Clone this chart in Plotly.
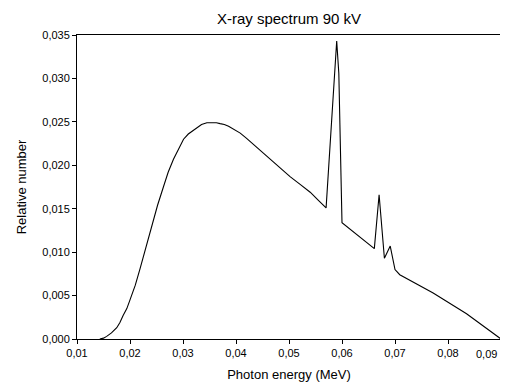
import plotly.graph_objects as go

# Photon energy (MeV) and relative number
energy = [0.0143, 0.0150, 0.0156, 0.0165, 0.0175, 0.0181, 0.0187, 0.0194, 0.0200,
          0.0210, 0.0219, 0.0230, 0.0241, 0.0252, 0.0263, 0.0272, 0.0282, 0.0292,
          0.0301, 0.0310, 0.0319, 0.0327, 0.0335, 0.0345, 0.0355, 0.0363, 0.0370,
          0.0378, 0.0386, 0.0395, 0.0408, 0.0420, 0.0442, 0.0464, 0.0483, 0.0502,
          0.0521, 0.0540, 0.0555, 0.0570,
          0.0590, 0.0594, 0.0600, 0.0661, 0.0670, 0.0680, 0.0691, 0.0700, 0.0709,
          0.0772, 0.0835, 0.0900]
relative = [0.0000, 0.0001, 0.0003, 0.0007, 0.0013, 0.0019, 0.0027, 0.0035, 0.0045,
            0.0062, 0.0081, 0.0106, 0.0132, 0.0154, 0.0175, 0.0192, 0.0207, 0.0220,
            0.0230, 0.0236, 0.0240, 0.0244, 0.0247, 0.0249, 0.0249, 0.0249, 0.0248,
            0.0247, 0.0245, 0.0242, 0.0237, 0.0231, 0.0219, 0.0207, 0.0197, 0.0187,
            0.0178, 0.0169, 0.0160, 0.0151,
            0.0343, 0.0306, 0.0134, 0.0104, 0.0166, 0.0093, 0.0107, 0.0080, 0.0074,
            0.0053, 0.0029, 0.0000]

x_tick_vals = [0.01, 0.02, 0.03, 0.04, 0.05, 0.06, 0.07, 0.08, 0.09]
x_tick_text = ["0,01", "0,02", "0,03", "0,04", "0,05", "0,06", "0,07", "0,08", "0,09"]
y_tick_vals = [0.0, 0.005, 0.010, 0.015, 0.020, 0.025, 0.030, 0.035]
y_tick_text = ["0,000", "0,005", "0,010", "0,015", "0,020", "0,025", "0,030", "0,035"]

fig = go.Figure(go.Scatter(x=energy, y=relative, mode="lines",
                           line=dict(color="black", width=1.1), hoverinfo="skip"))

# the page body adds an 8px offset, so the figure is 500x374 placed at (8, 8)
W, H = 500, 374
font_family = "Liberation Sans, Arial, sans-serif"
fig.update_layout(
    width=W, height=H,
    margin=dict(l=69, r=7, t=27, b=43, autoexpand=False),
    paper_bgcolor="white", plot_bgcolor="white",
    showlegend=False,
    font=dict(family=font_family, color="black", size=11),
    title=dict(text="X-ray spectrum 90 kV", x=0.5, xref="paper", xanchor="center",
               y=1 - 11 / H, yanchor="middle", font=dict(size=15, color="black")),
)
# last x label would run past the visible edge: draw it right-aligned at the edge instead
axis_text = x_tick_text[:-1] + [""]
fig.update_xaxes(range=[0.01, 0.09000001], tickvals=x_tick_vals, ticktext=axis_text,
                 showgrid=False, zeroline=False, showline=True, linecolor="black",
                 linewidth=1, mirror=True, ticks="outside", ticklen=4, tickcolor="black",
                 tickfont=dict(size=11), automargin=False, ticklabeloverflow="allow",
                 title=dict(text="Photon energy (MeV)", font=dict(size=13), standoff=11))
fig.add_annotation(text=x_tick_text[-1], xref="paper", yref="paper", x=1, y=0,
                   xanchor="right", yanchor="top", xshift=-2, yshift=-7,
                   showarrow=False, font=dict(size=11, color="black"))
fig.update_yaxes(range=[0, 0.035], tickvals=y_tick_vals, ticktext=y_tick_text,
                 showgrid=False, zeroline=False, showline=True, linecolor="black",
                 linewidth=1, mirror=True, ticks="outside", ticklen=4, tickcolor="black",
                 tickfont=dict(size=11), automargin=False, ticklabeloverflow="allow",
                 title=dict(text="Relative number", font=dict(size=13), standoff=12))

fig.write_html("out.html")
